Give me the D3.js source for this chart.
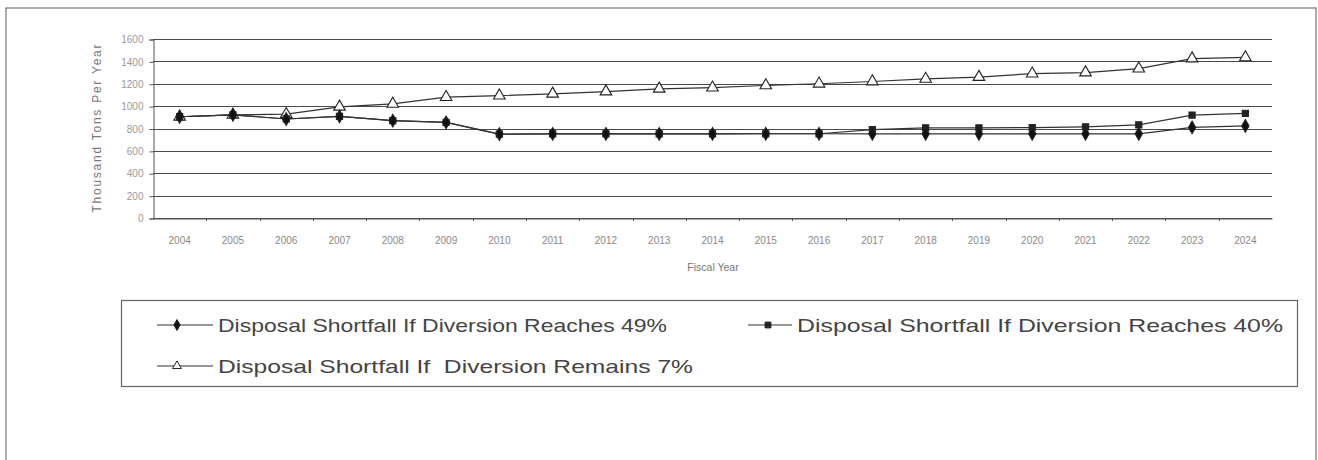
<!DOCTYPE html>
<html>
<head>
<meta charset="utf-8">
<script src="https://d3js.org/d3.v7.min.js"></script>
<style>
  body { margin: 0; background: #fff; }
  svg text { font-family: "Liberation Sans", Arial, sans-serif; }
</style>
</head>
<body>
<svg id="viz" width="1318" height="460"></svg>
<script>

var width = 1318;
var height = 460;

var years = ["2004","2005","2006","2007","2008","2009","2010","2011","2012","2013","2014",
             "2015","2016","2017","2018","2019","2020","2021","2022","2023","2024"];
var yTicks = [0, 200, 400, 600, 800, 1000, 1200, 1400, 1600];

// thousand tons per year
var reaches49 = [905, 922, 885, 908, 870, 855, 750, 752, 752, 752, 752, 753, 753, 752, 752, 752, 752, 752, 752, 810, 823];
var reaches40 = [905, 922, 885, 908, 870, 855, 750, 752, 752, 752, 752, 753, 753, 790, 805, 805, 808, 815, 832, 920, 935];
var remains7  = [905, 922, 928, 994, 1020, 1080, 1094, 1110, 1130, 1155, 1165, 1185, 1200, 1220, 1243, 1260, 1290, 1300, 1335, 1425, 1435];

var seriesNames = ["Disposal Shortfall If Diversion Reaches 49%",
                   "Disposal Shortfall If Diversion Reaches 40%",
                   "Disposal Shortfall If  Diversion Remains 7%"];

var svg = d3.select("#viz");

// outer frame
svg.append("rect")
    .attr("x", 6).attr("y", 8)
    .attr("width", 1310).attr("height", 460)
    .attr("fill", "none").attr("stroke", "#777").attr("stroke-width", 1.2);

var plotLeft = 153, plotRight = 1272, plotTop = 39, plotBottom = 218;

var x = d3.scaleBand().domain(years).range([plotLeft, plotRight]);
var y = d3.scaleLinear().domain([0, 1600]).range([plotBottom, plotTop]);

// gridlines
svg.append("g").selectAll("line").data(yTicks).enter().append("line")
    .attr("x1", plotLeft).attr("x2", plotRight)
    .attr("y1", function(d) { return Math.round(y(d)) + 0.5; })
    .attr("y2", function(d) { return Math.round(y(d)) + 0.5; })
    .attr("stroke", "#4a4a4a").attr("stroke-width", 1);

// y axis
var yAxis = svg.append("g")
    .attr("transform", "translate(" + (plotLeft + 0.5) + ",0.5)")
    .call(d3.axisLeft(y).tickValues(yTicks).tickFormat(d3.format("d")).tickSize(4).tickPadding(6));
yAxis.select(".domain").attr("stroke", "#555");
yAxis.selectAll(".tick line").attr("stroke", "#555");
yAxis.selectAll("text").attr("fill", "#999").style("font-size", "10px");

// x axis with ticks between categories
var xAxis = svg.append("g")
    .attr("transform", "translate(0," + (plotBottom + 0.5) + ")")
    .call(d3.axisBottom(x).tickSize(0).tickPadding(18));
xAxis.select(".domain").attr("stroke", "#555");
xAxis.selectAll("text").attr("fill", "#888").style("font-size", "10px");
svg.append("g").selectAll("line").data(years.slice(1)).enter().append("line")
    .attr("x1", function(d) { return Math.round(x(d)) + 0.5; })
    .attr("x2", function(d) { return Math.round(x(d)) + 0.5; })
    .attr("y1", plotBottom).attr("y2", plotBottom + 3)
    .attr("stroke", "#555");

svg.append("text")
    .attr("x", 713).attr("y", 271)
    .attr("text-anchor", "middle")
    .attr("fill", "#777").style("font-size", "10.5px")
    .text("Fiscal Year");

svg.append("text")
    .attr("transform", "translate(101," + ((plotTop + plotBottom) / 2) + ") rotate(-90)")
    .attr("text-anchor", "middle")
    .attr("fill", "#777").style("font-size", "12px")
    .attr("textLength", 168).attr("lengthAdjust", "spacing")
    .text("Thousand Tons Per Year");

var line = d3.line()
    .x(function(d, i) { return x(years[i]) + x.bandwidth() / 2; })
    .y(function(d) { return y(d); });

var diamond = d3.symbol().type(d3.symbolDiamond).size(46);
var square = d3.symbol().type(d3.symbolSquare).size(38);
var triangle = d3.symbol().type(d3.symbolTriangle).size(58);

var series = [
    { values: remains7, sym: triangle, fill: "#fff" },
    { values: reaches40, sym: square, fill: "#222" },
    { values: reaches49, sym: diamond, fill: "#111" }
];

series.forEach(function(s) {
    svg.append("path").datum(s.values)
        .attr("d", line)
        .attr("fill", "none").attr("stroke", "#333").attr("stroke-width", 1.2);
    svg.append("g").selectAll("path").data(s.values).enter().append("path")
        .attr("transform", function(d, i) {
            return "translate(" + (x(years[i]) + x.bandwidth() / 2) + "," + y(d) + ")";
        })
        .attr("d", s.sym)
        .attr("fill", s.fill).attr("stroke", "#222").attr("stroke-width", 1.1);
});

// legend
var legend = svg.append("g");
legend.append("rect")
    .attr("x", 121.5).attr("y", 300.5)
    .attr("width", 1176).attr("height", 86)
    .attr("fill", "none").attr("stroke", "#666").attr("stroke-width", 1.2);

var legendItems = [
    { name: seriesNames[0], sym: diamond, fill: "#111", x: 157, x2: 213, m: 177, y: 325, len: 449 },
    { name: seriesNames[1], sym: square, fill: "#222", x: 748, x2: 792, m: 768, y: 325, len: 486 },
    { name: seriesNames[2], sym: triangle, fill: "#fff", x: 157, x2: 213, m: 177, y: 366, len: 475 }
];

legendItems.forEach(function(d) {
    legend.append("line")
        .attr("x1", d.x).attr("x2", d.x2)
        .attr("y1", d.y).attr("y2", d.y)
        .attr("stroke", "#333").attr("stroke-width", 1.2);
    legend.append("path")
        .attr("transform", "translate(" + d.m + "," + d.y + ")")
        .attr("d", d.sym.size(34))
        .attr("fill", d.fill).attr("stroke", "#222");
    legend.append("text")
        .attr("x", d.x2 + 5).attr("y", d.y + 7)
        .attr("fill", "#444").style("font-size", "19px")
        .attr("textLength", d.len).attr("lengthAdjust", "spacingAndGlyphs")
        .style("white-space", "pre")
        .text(d.name);
});

</script>
</body>
</html>
